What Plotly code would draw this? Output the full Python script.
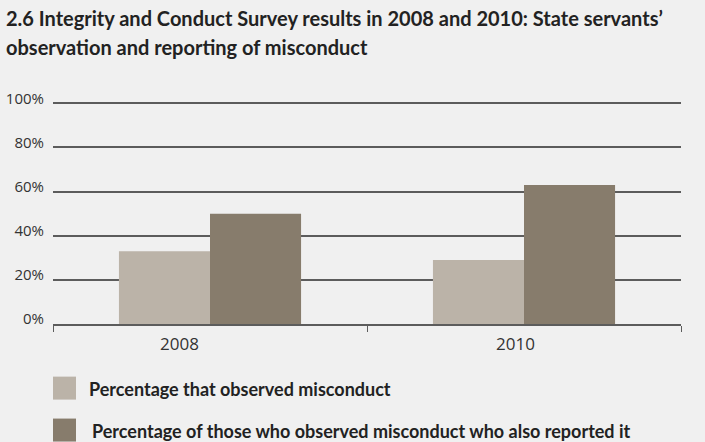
import plotly.graph_objects as go

# Survey years (categories)
years = ["2008", "2010"]

# Series values, percent of state servants
observed = [33, 29]
reported = [50, 63]

series_names = [
    "Percentage that observed misconduct",
    "Percentage of those who observed misconduct who also reported it",
]

y_tick_values = [0, 20, 40, 60, 80, 100]
y_tick_labels = ["0%", "20%", "40%", "60%", "80%", "100%"]

title_lines = [
    "2.6 Integrity and Conduct Survey results in 2008 and 2010: State servants’",
    "observation and reporting of misconduct",
]

LIGHT = "#bbb3a8"
DARK = "#877c6c"
BG = "#f0f0f0"
GRID = "#5c5c5c"
TEXT_FONT = "Lato"

# Plot area geometry in pixels
W, H = 705, 442
PL, PR, PT, PB = 53, 681, 102, 324.3
Y_MAX = 100.6

fig = go.Figure()
fig.add_trace(go.Bar(x=years, y=observed, name=series_names[0],
                     marker=dict(color=LIGHT, line=dict(width=0)), showlegend=False))
fig.add_trace(go.Bar(x=years, y=reported, name=series_names[1],
                     marker=dict(color=DARK, line=dict(width=0)), showlegend=False))

fig.update_layout(
    width=W, height=H,
    paper_bgcolor=BG, plot_bgcolor=BG,
    margin=dict(l=PL, r=W - PR, t=PT, b=H - PB, autoexpand=False),
    barmode="group", bargap=0.42, bargroupgap=0,
    font=dict(family="Open Sans", color="#333333", size=15),
)

# Percent labels sit just above their gridlines
fig.update_yaxes(
    range=[0, Y_MAX], tickvals=y_tick_values, ticktext=y_tick_labels,
    showgrid=True, gridcolor=GRID, gridwidth=1.5, automargin=False,
    zeroline=False, showline=False, ticks="", ticklabelstandoff=8,
    ticklabelshift=-5, tickfont=dict(size=15, color="#333333"),
)
# Category axis: baseline and boundary ticks; year labels are placed below
fig.update_xaxes(
    type="category", showline=True, linecolor=GRID, linewidth=1.5,
    ticks="outside", tickson="boundaries", ticklen=6, tickcolor=GRID, tickwidth=1,
    showgrid=False, showticklabels=False, automargin=False,
)

def px_x(x):
    return (x - PL) / (PR - PL)

def px_y(y):
    return (PB - y) / (PB - PT)

# Year labels under each group
for year, x_mid in zip(years, [179, 515]):
    fig.add_annotation(
        text=year, xref="paper", yref="paper",
        x=px_x(x_mid), y=px_y(344), xanchor="center", yanchor="middle",
        showarrow=False, font=dict(family="Open Sans", size=17, color="#333333"),
    )

# Title, two bold lines
for line, y_mid in zip(title_lines, [18, 47]):
    fig.add_annotation(
        text=f"<b>{line}</b>", xref="paper", yref="paper",
        x=px_x(4), y=px_y(y_mid), xanchor="left", yanchor="middle",
        align="left", showarrow=False,
        font=dict(family=TEXT_FONT, size=20, color="#222222"),
    )

# Legend drawn as swatches with bold labels beneath the plot
legend_rows = [(LIGHT, series_names[0], 377, 87), (DARK, series_names[1], 419, 90)]
for color, label, top_px, text_x in legend_rows:
    fig.add_shape(type="rect", xref="paper", yref="paper",
                  x0=px_x(53), x1=px_x(76), y0=px_y(top_px + 23), y1=px_y(top_px),
                  fillcolor=color, line=dict(width=0))
    fig.add_annotation(
        text=f"<b>{label}</b>", xref="paper", yref="paper",
        x=px_x(text_x), y=px_y(top_px + 12),
        xanchor="left", yanchor="middle", showarrow=False,
        font=dict(family=TEXT_FONT, size=18, color="#222222"),
    )

fig.write_html("out.html")
